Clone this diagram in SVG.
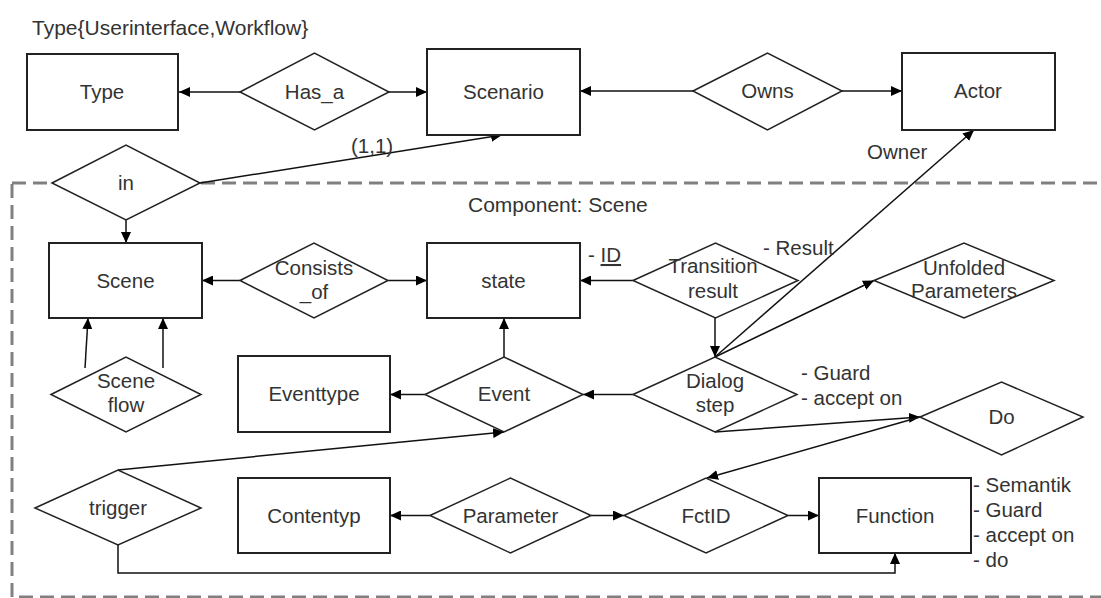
<svg xmlns="http://www.w3.org/2000/svg" width="1101" height="598" viewBox="0 0 1101 598">
<style>
text{font-family:"Liberation Sans",Arial,sans-serif;font-size:20.5px;fill:#333}
.c{text-anchor:middle}
.ent{fill:#fff;stroke:#222;stroke-width:2}
.rel{fill:#fff;stroke:#222;stroke-width:1.5}
.cn{fill:none;stroke:#111;stroke-width:1.5}
.arr{marker-end:url(#ah)}
.frame{fill:none;stroke:#808080;stroke-width:3;stroke-dasharray:14 7}
</style>
<defs>
<marker id="ah" markerUnits="userSpaceOnUse" markerWidth="11" markerHeight="10" refX="11" refY="5" orient="auto">
<path d="M0,0 L11,5 L0,10 z" fill="#000"/>
</marker>
</defs>
<rect width="1101" height="598" fill="#fff"/>
<text x="32" y="35" style="font-size:21px">Type{Userinterface,Workflow}</text>
<rect class="frame" x="12" y="183" width="1200" height="414"/>
<text x="468" y="212" style="font-size:21px">Component: Scene</text>

<g id="connectors">
<line class="cn arr" x1="240" y1="92" x2="179" y2="92"/>
<line class="cn arr" x1="389" y1="92" x2="427" y2="92"/>
<line class="cn arr" x1="693" y1="91" x2="580" y2="91"/>
<line class="cn arr" x1="842" y1="91" x2="902" y2="91"/>
<line class="cn arr" x1="200" y1="183" x2="502" y2="135"/>
<line class="cn arr" x1="126" y1="220" x2="126" y2="243"/>
<line class="cn arr" x1="240" y1="280.5" x2="202" y2="280.5"/>
<line class="cn arr" x1="388" y1="280.5" x2="427" y2="280.5"/>
<line class="cn arr" x1="633" y1="280.5" x2="580" y2="280.5"/>
<line class="cn arr" x1="715" y1="318" x2="715" y2="357"/>
<line class="cn arr" x1="715" y1="357" x2="974" y2="130"/>
<line class="cn arr" x1="715" y1="357" x2="874" y2="280.5"/>
<line class="cn arr" x1="504" y1="357" x2="504" y2="318"/>
<line class="cn arr" x1="85" y1="368" x2="88" y2="318"/>
<line class="cn arr" x1="163" y1="368" x2="163" y2="318"/>
<line class="cn arr" x1="425" y1="394.5" x2="390" y2="394.5"/>
<line class="cn arr" x1="633" y1="394.5" x2="583" y2="394.5"/>
<line class="cn arr" x1="715" y1="432" x2="920" y2="417"/>
<line class="cn arr" x1="920" y1="417" x2="707" y2="478"/>
<line class="cn arr" x1="118" y1="470" x2="504" y2="432"/>
<polyline class="cn arr" points="118,545 118,573 895,573 895,553"/>
<line class="cn arr" x1="430" y1="515.5" x2="390" y2="515.5"/>
<line class="cn arr" x1="591" y1="515.5" x2="624" y2="515.5"/>
<line class="cn arr" x1="788" y1="515.5" x2="819" y2="515.5"/>
</g>

<g id="type"><rect class="ent" x="27" y="54" width="151" height="76"/><text class="c" x="102" y="99">Type</text></g>
<g id="has_a"><polygon class="rel" points="240,92 314.5,53 389,92 314.5,130"/><text class="c" x="314.5" y="99">Has_a</text></g>
<g id="scenario"><rect class="ent" x="427" y="49" width="153" height="86"/><text class="c" x="503.5" y="99">Scenario</text></g>
<g id="owns"><polygon class="rel" points="693,91 767.5,53 842,91 767.5,130"/><text class="c" x="767.5" y="98">Owns</text></g>
<g id="actor"><rect class="ent" x="902" y="53" width="153" height="77"/><text class="c" x="978" y="98">Actor</text></g>
<g id="in"><polygon class="rel" points="52,183 126,145 200,183 126,220"/><text class="c" x="126" y="190">in</text></g>
<text x="351" y="153">(1,1)</text>
<text x="867" y="159">Owner</text>

<g id="scene"><rect class="ent" x="49" y="243" width="153" height="75"/><text class="c" x="125.5" y="288">Scene</text></g>
<g id="consists_of"><polygon class="rel" points="240,280.5 314,243 388,280.5 314,318"/><text class="c" x="314" y="275">Consists</text><text class="c" x="314" y="299">_of</text></g>
<g id="state"><rect class="ent" x="427" y="243" width="153" height="75"/><text class="c" x="503.5" y="288">state</text></g>
<g id="transition_result"><polygon class="rel" points="633,280.5 715.5,243 798,280.5 715.5,318"/><text class="c" x="713" y="273">Transition</text><text class="c" x="713" y="298">result</text></g>
<text x="588" y="262">- <tspan text-decoration="underline">ID</tspan></text>
<text x="763" y="255">- Result</text>
<g id="unfolded_parameters"><polygon class="rel" points="874,280.5 964,243 1054,280.5 964,318"/><text class="c" x="964" y="275">Unfolded</text><text class="c" x="964" y="298">Parameters</text></g>

<g id="scene_flow"><polygon class="rel" points="51,394.5 126,357 201,394.5 126,432"/><text class="c" x="126" y="388">Scene</text><text class="c" x="126" y="412">flow</text></g>
<g id="eventtype"><rect class="ent" x="238" y="356" width="152" height="76"/><text class="c" x="314" y="401">Eventtype</text></g>
<g id="event"><polygon class="rel" points="425,394.5 504,357 583,394.5 504,432"/><text class="c" x="504" y="401">Event</text></g>
<g id="dialog_step"><polygon class="rel" points="633,394.5 715,357 797,394.5 715,432"/><text class="c" x="715" y="388">Dialog</text><text class="c" x="715" y="412">step</text></g>
<text x="801" y="380">- Guard</text>
<text x="801" y="405">- accept on</text>
<g id="do"><polygon class="rel" points="920,417 1001.5,382 1083,417 1001.5,455"/><text class="c" x="1001.5" y="424">Do</text></g>

<g id="trigger"><polygon class="rel" points="35,508 118,470 201,508 118,545"/><text class="c" x="118" y="515">trigger</text></g>
<g id="contentyp"><rect class="ent" x="238" y="478" width="152" height="75"/><text class="c" x="314" y="523">Contentyp</text></g>
<g id="parameter"><polygon class="rel" points="430,515.5 510.5,478 591,515.5 510.5,553"/><text class="c" x="510.5" y="523">Parameter</text></g>
<g id="fctid"><polygon class="rel" points="624,515.5 706,478 788,515.5 706,553"/><text class="c" x="706" y="523">FctID</text></g>
<g id="function"><rect class="ent" x="819" y="478" width="152" height="75"/><text class="c" x="895" y="523">Function</text></g>
<text x="973" y="492">- Semantik</text>
<text x="973" y="517">- Guard</text>
<text x="973" y="542">- accept on</text>
<text x="973" y="567">- do</text>
</svg>
